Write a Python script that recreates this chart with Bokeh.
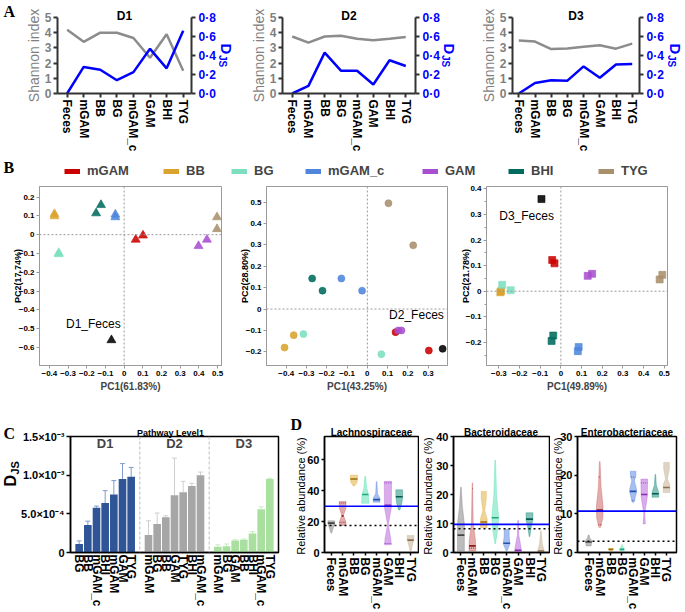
import numpy as np
from math import pi
from bokeh.plotting import figure
from bokeh.models import Range1d, LinearAxis, FixedTicker, Label, Span, Legend, LegendItem
from bokeh.layouts import row, column
from bokeh.embed import file_html
from bokeh.resources import INLINE

SANS = "Liberation Sans"
SERIF = "Liberation Serif"

# ---------------- Panel A data ----------------
a_cats = ["Feces", "mGAM", "BB", "BG", "mGAM_c", "GAM", "BHI", "TYG"]
a_titles = ["D1", "D2", "D3"]
shannon_d1 = [4.2, 3.4, 4.0, 4.0, 3.65, 2.35, 3.9, 1.5]
shannon_d2 = [3.75, 3.35, 3.75, 3.8, 3.6, 3.5, 3.6, 3.72]
shannon_d3 = [3.48, 3.42, 2.92, 2.96, 3.08, 3.17, 2.95, 3.28]
djs_d1 = [0.0, 0.28, 0.25, 0.14, 0.225, 0.47, 0.265, 0.66]
djs_d2 = [0.0, 0.08, 0.43, 0.24, 0.24, 0.095, 0.35, 0.29]
djs_d3 = [0.0, 0.11, 0.14, 0.135, 0.285, 0.165, 0.305, 0.31]

# ---------------- Panel B data ----------------
b_groups = ["mGAM", "BB", "BG", "mGAM_c", "GAM", "BHI", "TYG"]
b_colors = {"mGAM": "#cc0000", "BB": "#d9a32e", "BG": "#7ddfbf", "mGAM_c": "#4f86dc",
            "GAM": "#a84fcf", "BHI": "#006b5e", "TYG": "#a8906c", "Feces": "#000000"}
pc_d1_group = ["mGAM", "mGAM", "BB", "BB", "BG", "BG", "mGAM_c", "mGAM_c", "GAM", "GAM",
               "BHI", "BHI", "TYG", "TYG", "Feces"]
pc_d1_x = [0.062, 0.101, -0.373, -0.373, -0.35, -0.35, -0.047, -0.047, 0.398, 0.443,
           -0.124, -0.15, 0.497, 0.497, -0.068]
pc_d1_y = [-0.026, -0.004, 0.11, 0.098, -0.097, -0.103, 0.107, 0.093, -0.06, -0.026,
           0.158, 0.114, 0.093, 0.03, -0.56]
pc_d2_group = pc_d1_group
pc_d2_x = [0.139, 0.303, -0.363, -0.408, -0.315, 0.069, -0.128, -0.026, 0.152, 0.168,
           -0.272, -0.221, 0.104, 0.226, 0.371]
pc_d2_y = [-0.108, -0.194, -0.122, -0.18, -0.117, -0.211, 0.143, 0.086, -0.1, -0.1,
           0.143, 0.086, 0.495, 0.298, -0.186]
pc_d3_group = pc_d1_group
pc_d3_x = [-0.042, -0.031, -0.293, -0.29, -0.284, -0.243, 0.086, 0.082, 0.13, 0.151,
           -0.037, -0.045, 0.478, 0.491, -0.094]
pc_d3_y = [0.122, 0.109, -0.004, 0.0, 0.025, 0.004, -0.218, -0.234, 0.06, 0.068,
           -0.173, -0.194, 0.046, 0.064, 0.36]
pc_xlabels = ["PC1(61.83%)", "PC1(43.25%)", "PC1(49.89%)"]
pc_ylabels = ["PC2(17.74%)", "PC2(28.80%)", "PC2(21.78%)"]
pc_feces_labels = ["D1_Feces", "D2_Feces", "D3_Feces"]

# ---------------- Panel C data (values x 10^-3) ----------------
c_groups = ["D1", "D2", "D3"]
c_d1_cats = ["BG", "BB", "mGAM_c", "BHI", "mGAM", "GAM", "TYG"]
c_d1_vals = [0.11, 0.355, 0.58, 0.64, 0.75, 0.95, 0.98]
c_d1_err = [0.15, 0.405, 0.60, 0.80, 0.93, 1.15, 1.10]
c_d2_cats = ["mGAM", "BG", "BB", "GAM", "TYG", "BHI", "mGAM_c"]
c_d2_vals = [0.225, 0.37, 0.455, 0.74, 0.78, 0.86, 1.00]
c_d2_err = [0.41, 0.51, 0.475, 1.22, 0.92, 0.895, 1.04]
c_d3_cats = ["mGAM", "BG", "GAM", "BB", "BHI", "mGAM_c", "TYG"]
c_d3_vals = [0.075, 0.08, 0.155, 0.165, 0.245, 0.56, 0.95]
c_d3_err = [0.10, 0.11, 0.165, 0.175, 0.27, 0.59, 0.96]
c_ytick_labels = {0: "0", 0.5: "5.0\u00d710\u207b\u2074", 1.0: "1.0\u00d710\u207b\u00b3", 1.5: "1.5\u00d710\u207b\u00b3"}

# ---------------- Panel D data (violin profiles: (value, half width)) ----------------
d_titles = ["Lachnospiraceae", "Bacteroidaceae", "Enterobacteriaceae"]
d_fill = ["#7a7a7a", "#c85a5a", "#e0aa30", "#50e0b0", "#5080e0", "#b45ad8", "#108878", "#c0aa88"]
d_dark = ["#444444", "#8b1a1a", "#9c6b00", "#1fa87a", "#2050b0", "#8a2ab0", "#005a50", "#8a7050"]
lach_prof = [
    [(12.5, 0.03), (17.0, 0.22), (18.5, 0.30), (20.5, 0.30)],
    [(17.5, 0.30), (20.0, 0.28), (24.0, 0.07), (28.5, 0.28), (33.0, 0.30)],
    [(43.0, 0.06), (45.5, 0.28), (48.0, 0.32), (50.0, 0.32)],
    [(31.8, 0.32), (37.0, 0.30), (42.0, 0.12), (49.2, 0.04)],
    [(32.5, 0.30), (35.0, 0.30), (38.0, 0.08), (45.8, 0.03)],
    [(5.0, 0.30), (9.0, 0.25), (18.0, 0.03), (29.0, 0.30), (46.0, 0.32)],
    [(27.5, 0.05), (31.5, 0.22), (36.0, 0.30), (40.5, 0.30)],
    [(0.0, 0.02), (4.5, 0.15), (8.5, 0.30), (11.0, 0.30)],
]
lach_median = [19.0, 23.7, 47.5, 37.5, 34.2, 30.5, 36.0, 8.0]
lach_dotted = [(1, 32.0), (1, 19.5), (5, 45.0), (5, 5.8)]
lach_lines = (29.9, 17.5)
bact_prof = [
    [(0.5, 0.30), (10.0, 0.30), (16.0, 0.12), (22.5, 0.03)],
    [(0.5, 0.30), (4.0, 0.28), (10.0, 0.08), (24.0, 0.02)],
    [(8.5, 0.28), (11.5, 0.30), (14.5, 0.08), (18.5, 0.22), (21.0, 0.22)],
    [(3.0, 0.03), (8.0, 0.22), (12.0, 0.30), (20.0, 0.12), (31.8, 0.03)],
    [(0.5, 0.03), (3.0, 0.30), (5.5, 0.22), (8.0, 0.22)],
    [(0.3, 0.30), (2.0, 0.25), (6.0, 0.06), (11.0, 0.03)],
    [(5.5, 0.03), (9.5, 0.18), (11.0, 0.30), (13.7, 0.30)],
    [(0.2, 0.30), (3.0, 0.12), (7.5, 0.02)],
]
bact_median = [6.0, 2.3, 10.5, 12.0, 3.2, 0.8, 11.5, 0.5]
bact_dotted = [(1, 22.0), (1, 1.5)]
bact_lines = (9.7, 8.2)
entero_prof = [
    [(1.7, 0.22), (3.0, 0.30), (3.8, 0.10), (4.5, 0.04)],
    [(6.5, 0.08), (9.0, 0.28), (12.0, 0.30), (17.0, 0.12), (23.5, 0.03)],
    [(0.4, 0.05), (0.9, 0.25), (1.0, 0.25)],
    [(0.5, 0.20), (1.0, 0.20), (1.6, 0.05), (2.0, 0.02)],
    [(13.0, 0.08), (15.5, 0.30), (16.5, 0.30), (18.5, 0.12), (20.0, 0.25), (21.0, 0.25)],
    [(7.4, 0.10), (10.0, 0.04), (14.5, 0.28), (19.0, 0.30)],
    [(14.3, 0.30), (15.5, 0.30), (17.5, 0.08), (20.2, 0.03)],
    [(15.5, 0.30), (17.5, 0.30), (19.0, 0.08), (21.5, 0.25), (23.3, 0.25)],
]
entero_median = [2.7, 11.0, 0.8, 0.8, 15.8, 15.0, 15.2, 16.8]
entero_dotted = [(1, 19.5), (1, 7.2), (4, 19.5), (4, 13.5), (5, 18.0)]
entero_lines = (10.7, 2.9)

PAGE_W, PAGE_H = 685, 612


def base_fig(w, h, xr, yr, bl, br, bt, bb):
    p = figure(width=w, height=h, x_range=xr, y_range=yr, output_backend="svg",
               toolbar_location=None, min_border_left=bl, min_border_right=br,
               min_border_top=bt, min_border_bottom=bb)
    p.xgrid.visible = False
    p.ygrid.visible = False
    p.border_fill_color = None
    return p


def style_axis(ax, size, color="black", bold=True, line_color="black", lw=1.0, tick_out=4, standoff=3):
    ax.major_label_text_font = SANS
    ax.major_label_text_font_size = f"{size}px"
    ax.major_label_text_font_style = "bold" if bold else "normal"
    ax.major_label_text_color = color
    ax.axis_line_color = line_color
    ax.axis_line_width = lw
    ax.major_tick_line_color = line_color
    ax.major_tick_line_width = lw
    ax.major_tick_out = tick_out
    ax.major_tick_in = 0
    ax.minor_tick_line_color = None
    ax.major_label_standoff = standoff


def lab(p, x, y, text, size, color="black", bold=True, align="center", baseline="middle",
        angle=0, font=SANS, units="data"):
    p.add_layout(Label(x=x, y=y, x_units=units, y_units=units, text=text,
                       text_font=font, text_font_size=f"{size}px",
                       text_font_style="bold" if bold else "normal", text_color=color,
                       text_align=align, text_baseline=baseline, angle=angle))


# transparent overlay covering the page: free texts placed in page pixels
ov = figure(width=PAGE_W, height=PAGE_H, output_backend="svg", toolbar_location=None, min_border=0,
            x_axis_type=None, y_axis_type=None, x_range=Range1d(0, PAGE_W), y_range=Range1d(PAGE_H, 0),
            margin=(-PAGE_H, 0, 0, 0))
ov.outline_line_color = None
ov.background_fill_color = None
ov.border_fill_color = None
ov.xgrid.visible = False
ov.ygrid.visible = False


def olab(x, y, text, size, **kw):
    lab(ov, x, y, text, size, **kw)


# ---------------- Panel A ----------------
def panel_a(shannon, djs, w, bl, br, xr):
    p = base_fig(w, 154, Range1d(*xr), Range1d(0, 5), bl, br, 17, 58)
    p.outline_line_color = None
    p.extra_y_ranges = {"djs": Range1d(0, 0.8)}
    xs = list(range(len(a_cats)))
    p.line(xs, shannon, line_color="#8c8c8c", line_width=2.5)
    p.line(xs, djs, line_color="#0000ff", line_width=2.5, y_range_name="djs")
    p.xaxis.ticker = FixedTicker(ticks=xs)
    p.xaxis.major_label_overrides = {i: c for i, c in enumerate(a_cats)}
    p.xaxis.major_label_orientation = "vertical"
    style_axis(p.xaxis[0], 12, "black", line_color="#333333", lw=2, tick_out=4, standoff=2)
    p.yaxis.ticker = FixedTicker(ticks=[0, 1, 2, 3, 4, 5])
    style_axis(p.yaxis[0], 12, "#7f7f7f", line_color="#333333", lw=2, tick_out=4, standoff=2)
    p.yaxis.axis_label = "Shannon index"
    p.yaxis.axis_label_text_font = SANS
    p.yaxis.axis_label_text_font_size = "14px"
    p.yaxis.axis_label_text_font_style = "normal"
    p.yaxis.axis_label_text_color = "#7f7f7f"
    p.yaxis.axis_label_standoff = 0
    rax = LinearAxis(y_range_name="djs", ticker=FixedTicker(ticks=[0, 0.2, 0.4, 0.6, 0.8]))
    rax.major_label_overrides = {0: "0\u00b70", 0.2: "0\u00b72", 0.4: "0\u00b74",
                                 0.6: "0\u00b76", 0.8: "0\u00b78"}
    style_axis(rax, 12, "#0000ff", line_color="#333333", lw=2, tick_out=4, standoff=3)
    p.add_layout(rax, "right")
    return p


a1 = panel_a(shannon_d1, djs_d1, 236, 57, 45, (-0.58, 7.5))
a2 = panel_a(shannon_d2, djs_d2, 226, 46, 47, (-0.6, 7.6))
a3 = panel_a(shannon_d3, djs_d3, 223, 50, 46, (-0.39, 7.45))
for cx, t in zip([124, 348.5, 575.5], a_titles):
    olab(cx, 15.5, t, 12, baseline="alphabetic")
for dx in [226, 449, 675]:
    olab(dx, 43, "D", 15, color="#0000ff", align="left", angle=-pi / 2)
    olab(dx - 4, 54.5, "JS", 10, color="#0000ff", align="left", angle=-pi / 2)
olab(3, 2, "A", 16, align="left", baseline="top", font=SERIF)

# ---------------- Legend strip ----------------
leg = figure(width=PAGE_W, height=24, output_backend="svg", toolbar_location=None, min_border=0,
             x_axis_type=None, y_axis_type=None, x_range=Range1d(0, 1), y_range=Range1d(0, 1))
leg.outline_line_color = None
leg.xgrid.visible = False
leg.ygrid.visible = False
leg.border_fill_color = None
legend_x = [64, 163, 231, 305, 422, 508, 598]
for g, lx in zip(b_groups, legend_x):
    r = leg.line(x=[-10, -9], y=[-10, -10], line_color=b_colors[g], line_width=5)
    L = Legend(items=[LegendItem(label=g, renderers=[r])], location=(lx, 0),
               orientation="horizontal", padding=0, margin=0, glyph_width=16, glyph_height=14,
               label_height=14, label_standoff=7, border_line_color=None,
               background_fill_alpha=0, label_text_font=SANS, label_text_font_size="13px",
               label_text_font_style="bold")
    leg.add_layout(L)
olab(3, 158, "B", 16, align="left", baseline="top", font=SERIF)


# ---------------- Panel B ----------------
def panel_b(px, py, pg, marker, msize, xr, yr, xt, yt, w, bl, br, xlab, ftxt, fx, fy, yminor=None):
    p = base_fig(w, 217, Range1d(*xr), Range1d(*yr), bl, br, 8, 30)
    p.outline_line_color = "#9a9a9a"
    p.outline_line_width = 1
    p.add_layout(Span(location=0, dimension="width", line_color="#9a9a9a", line_dash="2 2", line_width=1))
    p.add_layout(Span(location=0, dimension="height", line_color="#9a9a9a", line_dash="2 2", line_width=1))
    for g in b_groups + ["Feces"]:
        xs = [x for x, gg in zip(px, pg) if gg == g]
        ys = [y for y, gg in zip(py, pg) if gg == g]
        p.scatter(xs, ys, marker=marker, size=msize, fill_color=b_colors[g],
                  line_color=b_colors[g], fill_alpha=0.88, line_alpha=0.6)
    p.xaxis.ticker = FixedTicker(ticks=xt)
    if yminor:
        p.yaxis.ticker = FixedTicker(ticks=yt, minor_ticks=yminor)
    else:
        p.yaxis.ticker = FixedTicker(ticks=yt)
    for ax in (p.xaxis[0], p.yaxis[0]):
        style_axis(ax, 8, "black", line_color="#9a9a9a", lw=1, tick_out=3, standoff=2)
        ax.major_label_overrides = {0: "0"}
    if yminor:
        p.yaxis.minor_tick_line_color = "#9a9a9a"
        p.yaxis.minor_tick_out = 2
        p.yaxis.minor_tick_in = 0
    p.xaxis.axis_label = xlab
    p.xaxis.axis_label_text_font = SANS
    p.xaxis.axis_label_text_font_size = "10px"
    p.xaxis.axis_label_text_font_style = "bold"
    p.xaxis.axis_label_standoff = 2
    lab(p, fx, fy, ftxt, 12, bold=False)
    return p


b1 = panel_b(pc_d1_x, pc_d1_y, pc_d1_group, "triangle", 9, (-0.453, 0.521), (-0.695, 0.256),
             [-0.4, -0.3, -0.2, -0.1, 0, 0.1, 0.2, 0.3, 0.4, 0.5],
             [0.2, 0.1, 0, -0.1, -0.2, -0.3, -0.4, -0.5, -0.6],
             234, 39, 13, pc_xlabels[0], pc_feces_labels[0], -0.165, -0.477)
b2 = panel_b(pc_d2_x, pc_d2_y, pc_d2_group, "circle", 7, (-0.497, 0.395), (-0.264, 0.573),
             [-0.4, -0.3, -0.2, -0.1, 0, 0.1, 0.2, 0.3],
             [0.5, 0.4, 0.3, 0.2, 0.1, 0, -0.1, -0.2],
             220, 32, 7, pc_xlabels[1], pc_feces_labels[1], 0.242, -0.03)
b3 = panel_b(pc_d3_x, pc_d3_y, pc_d3_group, "square", 7, (-0.36, 0.516), (-0.29, 0.409),
             [-0.3, -0.2, -0.1, 0, 0.1, 0.2, 0.3, 0.4, 0.5],
             [0.4, 0.3, 0.2, 0.1, 0, -0.1, -0.2],
             231, 32, 18, pc_xlabels[2], pc_feces_labels[2], -0.166, 0.292,
             yminor=[0.35, 0.25, 0.15, 0.05, -0.05, -0.15, -0.25])
for yx, t in zip([17.5, 244.5, 465], pc_ylabels):
    olab(yx, 275.5, t, 9, angle=pi / 2)

# ---------------- Panel C ----------------
c = base_fig(288, 217, Range1d(0, 24), Range1d(0, 1.5), 70, 10, 41, 57)
c.outline_line_color = "black"
c.outline_line_width = 1.5
c_sets = [(c_d1_cats, c_d1_vals, c_d1_err, "#2f5597", "#7f9bd0"),
          (c_d2_cats, c_d2_vals, c_d2_err, "#a6a6a6", "#cfcfcf"),
          (c_d3_cats, c_d3_vals, c_d3_err, "#a9e0a0", "#c6ecc0")]
c_ticks, c_over = [], {}
for gi, (cats, vals, errs, col, ecol) in enumerate(c_sets):
    xs = [gi * 8 + 1 + i for i in range(len(cats))]
    c.segment(x0=xs, y0=vals, x1=xs, y1=errs, line_color=ecol, line_width=1)
    c.segment(x0=[x - 0.28 for x in xs], y0=errs, x1=[x + 0.28 for x in xs], y1=errs,
              line_color=ecol, line_width=1)
    c.vbar(x=xs, top=vals, width=0.88, fill_color=col, line_color=None)
    for x, name in zip(xs, cats):
        c_ticks.append(x)
        c_over[x] = name
    c.add_layout(Label(x=gi * 8 + 4, y=109, x_units="data", y_units="screen", text=c_groups[gi],
                       text_font=SANS, text_font_size="13px", text_font_style="bold",
                       text_align="center", text_baseline="middle"))
for sx in (8, 16):
    c.add_layout(Span(location=sx, dimension="height", line_color="#bbbbbb", line_dash="3 2", line_width=1))
c.xaxis.ticker = FixedTicker(ticks=c_ticks)
c.xaxis.major_label_overrides = c_over
c.xaxis.major_label_orientation = "vertical"
style_axis(c.xaxis[0], 12, "black", line_color="black", lw=1.5, tick_out=0, standoff=2)
c.yaxis.ticker = FixedTicker(ticks=[0, 0.5, 1.0, 1.5])
c.yaxis.major_label_overrides = c_ytick_labels
style_axis(c.yaxis[0], 11, "black", line_color="black", lw=1.5, tick_out=4, standoff=2)
olab(170, 432, "Pathway Level1", 9, baseline="alphabetic")
olab(10, 486, "D", 16, align="left", angle=pi / 2)
olab(14, 474, "JS", 11, align="left", angle=pi / 2)
olab(3, 424, "C", 16, align="left", baseline="top", font=SERIF)


# ---------------- Panel D ----------------
def panel_d(prof, med, dotted, lines, yr, yt, w, bl, br, xr):
    p = base_fig(w, 217, Range1d(*xr), Range1d(*yr), bl, br, 41, 57)
    p.outline_line_color = "black"
    p.outline_line_width = 1.5
    pxs, pys, mx0, mx1 = [], [], [], []
    for i, pr in enumerate(prof):
        yv = [q[0] for q in pr]
        wv = [q[1] for q in pr]
        pxs.append([i - v for v in wv] + [i + v for v in wv[::-1]])
        pys.append(yv + yv[::-1])
        hw = float(np.interp(med[i], yv, wv))
        mx0.append(i - hw)
        mx1.append(i + hw)
    p.patches(pxs, pys, fill_color=d_fill, fill_alpha=0.5, line_color=d_fill, line_alpha=0.45, line_width=0.8)
    p.segment(x0=mx0, y0=med, x1=mx1, y1=med, line_color=d_dark, line_width=1.6)
    dx0, dx1, dy, dc = [], [], [], []
    for i, yv in dotted:
        pr = prof[i]
        hw = float(np.interp(yv, [q[0] for q in pr], [q[1] for q in pr]))
        dx0.append(i - hw)
        dx1.append(i + hw)
        dy.append(yv)
        dc.append(d_dark[i])
    if dotted:
        p.segment(x0=dx0, y0=dy, x1=dx1, y1=dy, line_color=dc, line_width=1, line_dash="1 1", line_alpha=0.8)
    p.add_layout(Span(location=lines[0], dimension="width", line_color="#0000ff", line_width=1.6))
    p.add_layout(Span(location=lines[1], dimension="width", line_color="black", line_width=1.5, line_dash="2 3"))
    xs = list(range(len(a_cats)))
    p.xaxis.ticker = FixedTicker(ticks=xs)
    p.xaxis.major_label_overrides = {i: cc for i, cc in enumerate(a_cats)}
    p.xaxis.major_label_orientation = "vertical"
    style_axis(p.xaxis[0], 12, "black", line_color="black", lw=1.5, tick_out=3, standoff=2)
    p.yaxis.ticker = FixedTicker(ticks=yt)
    style_axis(p.yaxis[0], 11, "black", line_color="black", lw=1.5, tick_out=3, standoff=2)
    return p


d1 = panel_d(lach_prof, lach_median, lach_dotted, lach_lines, (0, 75), [0, 20, 40, 60],
             131, 36, 1, (-0.6, 7.7))
d2 = panel_d(bact_prof, bact_median, bact_dotted, bact_lines, (0, 40), [0, 10, 20, 30, 40],
             131, 34, 1, (-0.65, 7.75))
d3 = panel_d(entero_prof, entero_median, entero_dotted, entero_lines, (0, 30), [0, 10, 20, 30],
             135, 27, 9, (-1.0, 7.9))
for cx, t in zip([371, 500.5, 626.5], d_titles):
    olab(cx, 432, t, 10, baseline="alphabetic")
for yx in [300, 427, 557]:
    olab(yx, 495.5, "Relative abundance (%)", 11, bold=False, angle=pi / 2)
olab(290, 415, "D", 16, align="left", baseline="top", font=SERIF)

layout = column(row(a1, a2, a3), leg, row(b1, b2, b3), row(c, d1, d2, d3), ov)
open("out.html", "w").write(file_html(layout, INLINE))
